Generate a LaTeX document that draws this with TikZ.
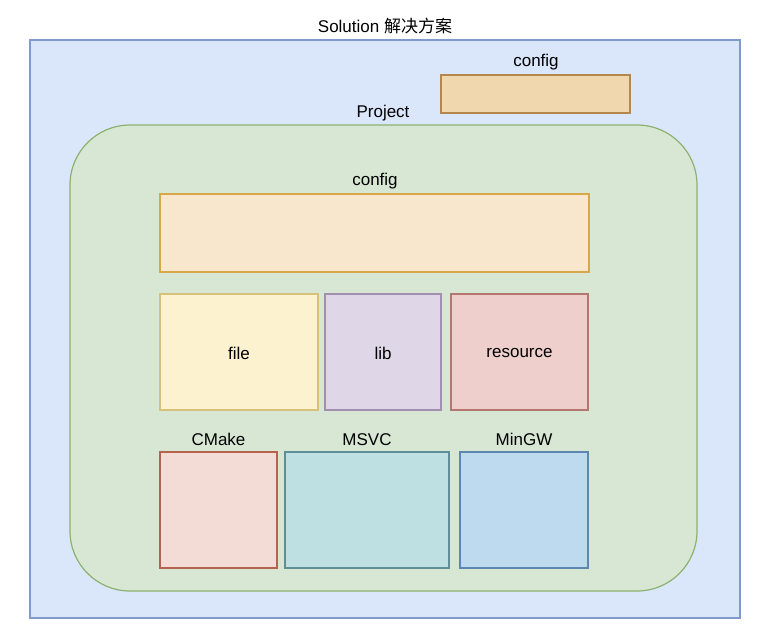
\documentclass[tikz,border=0pt]{standalone}
\usepackage{fontspec}
\setmainfont{Liberation Sans}
\newfontfamily\cjk{Noto Sans CJK SC}
\definecolor{solfill}{HTML}{DAE7FB}
\definecolor{solline}{HTML}{7F9ACB}
\definecolor{prjfill}{HTML}{D8E7D4}
\definecolor{prjline}{HTML}{8DB16F}
\definecolor{cfgAfill}{HTML}{F1D7AD}
\definecolor{cfgAline}{HTML}{B3874E}
\definecolor{cfgBfill}{HTML}{F8E6CD}
\definecolor{cfgBline}{HTML}{D6A84A}
\definecolor{filefill}{HTML}{FCF2CF}
\definecolor{fileline}{HTML}{D7C17A}
\definecolor{libfill}{HTML}{DFD6E7}
\definecolor{libline}{HTML}{A28FB2}
\definecolor{resfill}{HTML}{EFCFCC}
\definecolor{resline}{HTML}{B57670}
\definecolor{cmkfill}{HTML}{F3DBD6}
\definecolor{cmkline}{HTML}{B5624F}
\definecolor{msvfill}{HTML}{BFE0E3}
\definecolor{msvline}{HTML}{5E8F94}
\definecolor{mgwfill}{HTML}{BDDAEE}
\definecolor{mgwline}{HTML}{5C87AE}
\tikzset{
  box/.style={draw, line width=1.2pt, inner sep=0pt},
  lbl/.style={font=\fontsize{17}{20}\selectfont, text=black, inner sep=0pt, yshift=-1.5pt},
}
\begin{document}
\begin{tikzpicture}[x=1pt,y=-1pt]
\useasboundingbox (0,0) rectangle (770,627);
% Solution
\draw[box, fill=solfill, draw=solline] (30,40) rectangle (740,618);
\node[lbl] (soltitle) at (385,25) {Solution {\cjk 解决方案}};
% top config
\draw[box, fill=cfgAfill, draw=cfgAline] (441,75) rectangle (630,113);
\node[lbl] (cfgAt) at (536,61) {config};
% Project
\draw[box, fill=prjfill, draw=prjline, rounded corners=60pt] (70,125) rectangle (697,591);
\node[lbl] (prjt) at (383,112) {Project};
% inner config
\draw[box, fill=cfgBfill, draw=cfgBline] (160,194) rectangle (589,272);
\node[lbl] (cfgBt) at (375,180) {config};
% file lib resource
\draw[box, fill=filefill, draw=fileline] (160,294) rectangle (318,410);
\node[lbl] (file) at (239,352) {file};
\draw[box, fill=libfill, draw=libline] (325,294) rectangle (441,410);
\node[lbl] (lib) at (383,352) {lib};
\draw[box, fill=resfill, draw=resline] (451,294) rectangle (588,410);
\node[lbl] (res) at (519.5,352) {resource};
% toolchains
\draw[box, fill=cmkfill, draw=cmkline] (160,452) rectangle (277,568);
\node[lbl] (cmk) at (218.5,438) {CMake};
\draw[box, fill=msvfill, draw=msvline] (285,452) rectangle (449,568);
\node[lbl] (msv) at (367,438) {MSVC};
\draw[box, fill=mgwfill, draw=mgwline] (460,452) rectangle (588,568);
\node[lbl] (mgw) at (524,438) {MinGW};
\end{tikzpicture}
\end{document}
